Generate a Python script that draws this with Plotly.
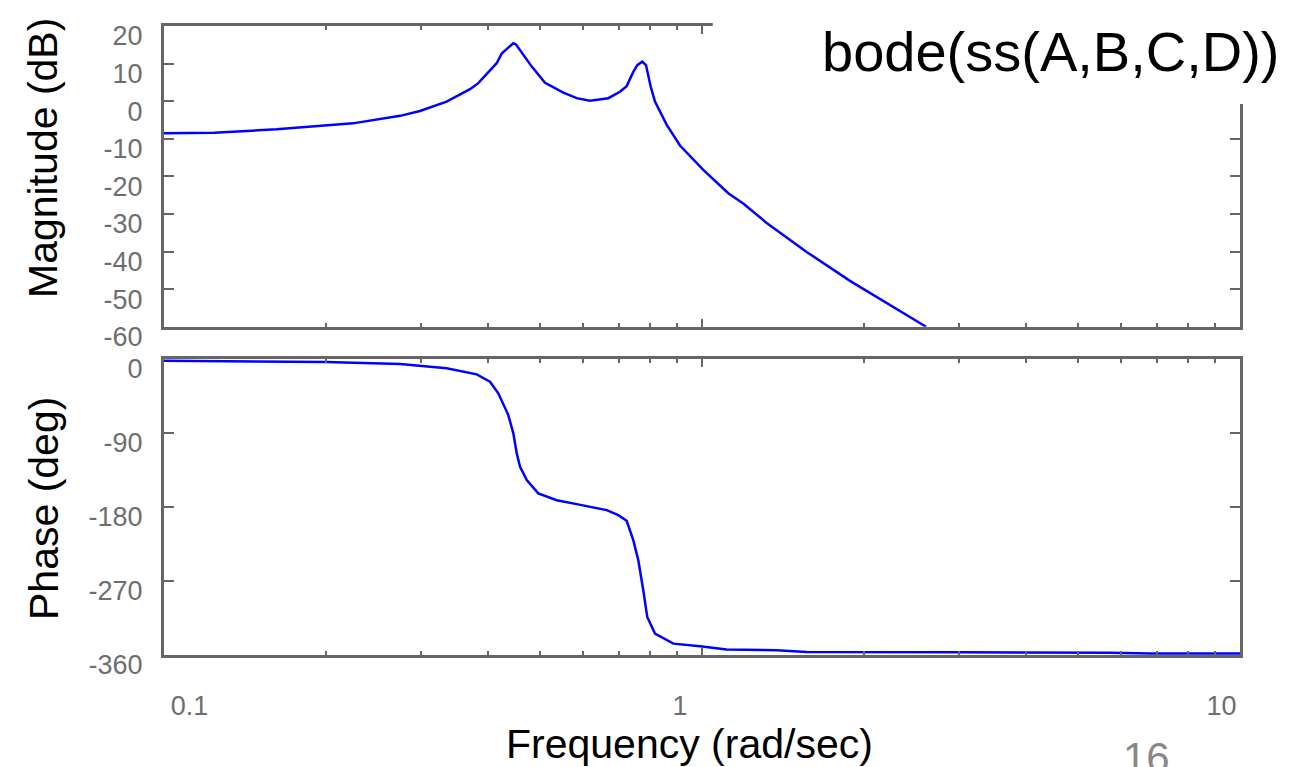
import plotly.graph_objects as go

# ---- data ----
mag_freq = [0.1, 0.124, 0.162, 0.2245, 0.2747, 0.2991, 0.3352, 0.3705, 0.3839, 0.4153,
            0.4243, 0.4460, 0.4512, 0.4826, 0.5108, 0.5524, 0.5849, 0.6190, 0.6697,
            0.7039, 0.7244, 0.7452, 0.7580, 0.7744, 0.7868, 0.8028, 0.8177, 0.8600,
            0.9101, 1.0056, 1.119, 1.193, 1.319, 1.565, 1.884, 2.609]
mag_db = [-8.5, -8.4, -7.5, -5.9, -3.9, -2.6, -0.1, 3.2, 4.8, 10.1,
          12.7, 15.4, 15.1, 9.2, 4.9, 2.3, 0.8, 0.1, 0.8,
          2.5, 4.0, 7.8, 9.6, 10.5, 9.6, 3.9, -0.1, -6.3,
          -11.8, -18.3, -24.5, -27.2, -32.4, -40.1, -47.8, -60.0]

phase_freq = [0.1, 0.15, 0.2, 0.2747, 0.3352, 0.3813, 0.4036, 0.4182, 0.4365, 0.4460,
              0.4526, 0.4590, 0.4724, 0.4963, 0.5370, 0.5849, 0.6651, 0.6987, 0.7244,
              0.7452, 0.7614, 0.7778, 0.7911, 0.8177, 0.8845, 0.9915, 1.111, 1.377,
              1.565, 3.0, 5.73, 6.80, 10.0]
phase_deg = [-2.4, -3.0, -4.0, -6.4, -11.7, -19.0, -28.0, -42.1, -68.5, -90.7,
             -115.1, -131.4, -147.5, -163.7, -171.9, -176.7, -184.0, -190.1, -197.0,
             -220.5, -244.8, -281.3, -313.8, -334.0, -346.2, -349.4, -353.4, -354.3,
             -356.3, -356.8, -357.2, -358.3, -358.3]

mag_ticks = [-60, -50, -40, -30, -20, -10, 0, 10, 20]
mag_tick_text = ["-60", "-50", "-40", "-30", "-20", "-10", "0", "10", "20"]
phase_ticks = [-360, -270, -180, -90, 0]
phase_tick_text = ["-360", "-270", "-180", "-90", "0"]
freq_major = [0.1, 1, 10]
freq_minor = [0.2, 0.3, 0.4, 0.5, 0.6, 0.7, 0.8, 0.9, 2, 3, 4, 5, 6, 7, 8, 9]
freq_label_pos = [0.1115, 0.91, 9.24]
freq_label_text = ["0.1", "1", "10"]

FONT = "Liberation Sans, Arial, Helvetica, sans-serif"
AX = "#666666"
TXT = "#6e6e6e"
BLUE = "#0000ff"

fig = go.Figure()
fig.add_trace(go.Scatter(x=mag_freq, y=mag_db, mode="lines", line=dict(color=BLUE, width=2.5),
                         xaxis="x", yaxis="y", showlegend=False, hoverinfo="skip"))
fig.add_trace(go.Scatter(x=phase_freq, y=phase_deg, mode="lines", line=dict(color=BLUE, width=2.5),
                         xaxis="x2", yaxis="y2", showlegend=False, hoverinfo="skip"))
fig.add_trace(go.Scatter(x=phase_freq, y=phase_deg, mode="none",
                         xaxis="x3", yaxis="y2", showlegend=False, hoverinfo="skip"))

xcommon = dict(type="log", range=[-1, 1], showgrid=False, zeroline=False, automargin=False,
               showline=True, linecolor=AX, linewidth=3, mirror="ticks",
               ticks="inside", ticklen=8, tickwidth=2, tickcolor=AX,
               tickmode="array", tickvals=freq_major, showticklabels=False,
               minor=dict(tickmode="array", tickvals=freq_minor, ticks="inside",
                          ticklen=4, tickwidth=2, tickcolor=AX, showgrid=False))
ycommon = dict(showgrid=False, zeroline=False, showline=True, linecolor=AX, linewidth=3,
               mirror="ticks", ticks="inside", ticklen=10, tickwidth=2, tickcolor=AX,
               automargin=False, tickmode="array",
               tickfont=dict(family=FONT, size=27, color=TXT),
               ticklabelstandoff=13, ticklabelshift=10)

TOP_D = [0.5219, 1.0]
BOT_D = [0.0, 0.4711]

fig.update_layout(
    width=1300, height=767,
    margin=dict(l=164, r=60, t=26, b=112, autoexpand=False),
    paper_bgcolor="white", plot_bgcolor="white",
    showlegend=False,
    xaxis=dict(**xcommon, anchor="y"),
    yaxis=dict(**ycommon, domain=TOP_D, range=[-60, 20], tickvals=mag_ticks,
               ticktext=mag_tick_text, anchor="x"),
    xaxis2=dict(**xcommon, anchor="y2"),
    yaxis2=dict(**ycommon, domain=BOT_D, range=[-360, 0], tickvals=phase_ticks,
                ticktext=phase_tick_text, anchor="x2"),
    xaxis3=dict(type="log", range=[-1, 1], overlaying="x2", anchor="y2", side="bottom",
                showgrid=False, zeroline=False, showline=False, ticks="", automargin=False,
                tickmode="array", tickvals=freq_label_pos, ticktext=freq_label_text,
                tickfont=dict(family=FONT, size=27, color=TXT), ticklabelstandoff=32),
)

# white box of the slide title hiding the upper-right corner of the frame
fig.add_shape(type="rect", xref="paper", yref="paper", x0=0.51, x1=1.2, y0=0.876, y1=1.2,
              fillcolor="white", line=dict(width=0), layer="above")

annos = [
    dict(text="bode(ss(A,B,C,D))", x=0.8243, y=0.9587, size=56, color="black", angle=0),
    dict(text="Magnitude (dB)", x=-0.1120, y=0.791, size=41, color="black", angle=-90),
    dict(text="Phase (deg)", x=-0.1120, y=0.2329, size=41, color="black", angle=-90),
    dict(text="Frequency (rad/sec)", x=0.4888, y=-0.1418, size=41, color="black", angle=0),
]
for a in annos:
    fig.add_annotation(text=a["text"], xref="paper", yref="paper", x=a["x"], y=a["y"],
                       xanchor="center", yanchor="middle", showarrow=False,
                       textangle=a["angle"], font=dict(family=FONT, size=a["size"], color=a["color"]))
fig.add_annotation(text="16", xref="paper", yref="paper", x=0.9131, y=-0.1224,
                   xanchor="center", yanchor="top", showarrow=False,
                   font=dict(family=FONT, size=42, color="#888888"))

fig.write_html("out.html")
